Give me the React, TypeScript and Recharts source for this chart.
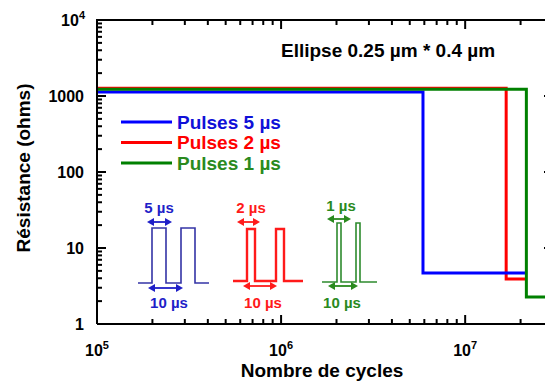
import { LineChart, Line, XAxis, YAxis } from 'recharts';

// Nombre de cycles / résistance for each pulse width (step shaped curves)
const cycles5us = [1e5, 5.9e6, 5.9e6, 2.15e7];
const res5us = [1130, 1130, 4.7, 4.7];
const cycles2us = [1e5, 1.67e7, 1.67e7, 2.15e7];
const res2us = [1260, 1260, 3.9, 3.9];
const cycles1us = [1e5, 2.15e7, 2.15e7, 3e7];
const res1us = [1230, 1230, 2.27, 2.27];

const xTicks = [
  1e5, 2e5, 3e5, 4e5, 5e5, 6e5, 7e5, 8e5, 9e5,
  1e6, 2e6, 3e6, 4e6, 5e6, 6e6, 7e6, 8e6, 9e6,
  1e7, 2e7, 3e7,
];
const yTicks = [
  1, 2, 3, 4, 5, 6, 7, 8, 9,
  10, 20, 30, 40, 50, 60, 70, 80, 90,
  100, 200, 300, 400, 500, 600, 700, 800, 900,
  1000, 2000, 3000, 4000, 5000, 6000, 7000, 8000, 9000,
  10000,
];
const yLabels: { [k: number]: string } = { 1: '1', 10: '10', 100: '100', 1000: '1000' };

const series = [
  { name: 'Pulses 5 µs', color: '#0000ff', text: '#1010d8', x: cycles5us, y: res5us },
  { name: 'Pulses 2 µs', color: '#ff0000', text: '#ff0000', x: cycles2us, y: res2us },
  { name: 'Pulses 1 µs', color: '#008000', text: '#2a8a1e', x: cycles1us, y: res1us },
];
const drawOrder = [1, 0, 2];

const X_DOMAIN = [1e5, 3e7];
const PLOT = { left: 97, right: 553, top: 20, bottom: 324 };

const toPoints = (xs: number[], ys: number[]) => xs.map((x, i) => ({ x, y: ys[i] }));

const isDecade = (v: number) => Math.abs(Math.log10(v) - Math.round(Math.log10(v))) < 1e-9;

// same log mapping as the chart's x axis, used only for the top frame ticks
const xPos = (v: number) =>
  PLOT.left +
  ((Math.log10(v) - Math.log10(X_DOMAIN[0])) / (Math.log10(X_DOMAIN[1]) - Math.log10(X_DOMAIN[0]))) *
    (PLOT.right - PLOT.left);

const FONT = '"Liberation Sans", Arial, sans-serif';

const BottomTick = (props: any) => {
  const { x, y, payload } = props;
  const major = isDecade(payload.value);
  return (
    <g>
      <line x1={x} x2={x} y1={y} y2={y - (major ? 9 : 5)} stroke="#000" strokeWidth={2} />
      {major && (
        <text x={x} y={y + 32} textAnchor="middle" fontSize={16} fontWeight="bold" fill="#000" fontFamily={FONT}>
          10<tspan dy={-7} fontSize={11}>{Math.round(Math.log10(payload.value))}</tspan>
        </text>
      )}
    </g>
  );
};

const LeftTick = (props: any) => {
  const { x, y, payload } = props;
  const v = payload.value;
  const major = isDecade(v);
  return (
    <g>
      <line x1={x} x2={x + (major ? 9 : 5)} y1={y} y2={y} stroke="#000" strokeWidth={2} />
      {major && v < 10000 && (
        <text x={x - 13} y={y} dy="0.35em" textAnchor="end" fontSize={16} fontWeight="bold" fill="#000" fontFamily={FONT}>
          {yLabels[v]}
        </text>
      )}
      {v === 10000 && (
        <text x={x - 12} y={y} dy="0.35em" textAnchor="end" fontSize={16} fontWeight="bold" fill="#000" fontFamily={FONT}>
          10<tspan dy={-7} fontSize={11}>4</tspan>
        </text>
      )}
    </g>
  );
};

const RightTick = (props: any) => {
  const { x, y, payload } = props;
  const major = isDecade(payload.value);
  return <line x1={x} x2={x - (major ? 9 : 5)} y1={y} y2={y} stroke="#000" strokeWidth={2} />;
};

// pulse sketches (schematic insets)
const insets = [
  {
    color: '#3434a6', label: '#1f1fc8', sw: 1.6, width: '5 µs', period: '10 µs',
    edges: [138, 152, 166, 181, 195, 209], hi: 228, lo: 283,
    top: [147, 172, 222], topText: [159, 213], bot: [148, 183, 288], botText: [169, 308],
  },
  {
    color: '#ff1a1a', label: '#ff1a1a', sw: 2.4, width: '2 µs', period: '10 µs',
    edges: [233, 247, 255, 276, 284, 303], hi: 229, lo: 281,
    top: [237, 260, 222], topText: [251, 213], bot: [243, 277, 286], botText: [263, 308],
  },
  {
    color: '#2e8b2e', label: '#2a8a1e', sw: 1.6, width: '1 µs', period: '10 µs',
    edges: [322, 337, 341, 356, 360, 377], hi: 223, lo: 282,
    top: [327, 351, 219], topText: [341, 211], bot: [328, 358, 286], botText: [342, 308],
  },
];

const Arrow = ({ a, b, y, color }: { a: number; b: number; y: number; color: string }) => (
  <g>
    <line x1={a + 4} x2={b - 4} y1={y} y2={y} stroke={color} strokeWidth={1.8} />
    <polygon points={`${a},${y} ${a + 7},${y - 4} ${a + 7},${y + 4}`} fill={color} />
    <polygon points={`${b},${y} ${b - 7},${y - 4} ${b - 7},${y + 4}`} fill={color} />
  </g>
);

export default function App() {
  return (
    <div style={{ position: 'absolute', left: 0, top: 0, width: 545, height: 383, overflow: 'hidden', background: '#fff', fontFamily: FONT }}>
      <LineChart width={560} height={383} margin={{ top: PLOT.top, right: 0, bottom: 0, left: 0 }}>
        <XAxis
          dataKey="x"
          type="number"
          scale="log"
          domain={X_DOMAIN}
          allowDataOverflow
          ticks={xTicks}
          interval={0}
          height={59}
          tickSize={0}
          tickMargin={0}
          tick={<BottomTick />}
          axisLine={{ stroke: '#000', strokeWidth: 2 }}
        />
        <YAxis
          type="number"
          scale="log"
          domain={[1, 10000]}
          allowDataOverflow
          ticks={yTicks}
          interval={0}
          width={PLOT.left}
          tickSize={0}
          tickMargin={0}
          tick={<LeftTick />}
          axisLine={{ stroke: '#000', strokeWidth: 2 }}
        />
        <YAxis
          yAxisId="right"
          orientation="right"
          type="number"
          scale="log"
          domain={[1, 10000]}
          allowDataOverflow
          ticks={yTicks}
          interval={0}
          width={560 - PLOT.right}
          tickSize={0}
          tickMargin={0}
          tick={<RightTick />}
          axisLine={{ stroke: '#000', strokeWidth: 2 }}
        />
        {drawOrder.map((i) => (
          <Line
            key={series[i].name}
            data={toPoints(series[i].x, series[i].y)}
            dataKey="y"
            type="linear"
            stroke={series[i].color}
            strokeWidth={3}
            dot={false}
            activeDot={false}
            isAnimationActive={false}
          />
        ))}
        {/* invisible copy so the right mirror axis gets a domain */}
        <Line
          yAxisId="right"
          data={toPoints(cycles1us, res1us)}
          dataKey="y"
          stroke="none"
          dot={false}
          activeDot={false}
          legendType="none"
          isAnimationActive={false}
        />
      </LineChart>

      <svg width={545} height={383} style={{ position: 'absolute', left: 0, top: 0, pointerEvents: 'none' }} fontFamily={FONT}>
        {/* top frame with inward ticks */}
        <line x1={PLOT.left - 1} x2={545} y1={PLOT.top} y2={PLOT.top} stroke="#000" strokeWidth={2} />
        {xTicks.map((v) => (
          <line
            key={v}
            x1={xPos(v)}
            x2={xPos(v)}
            y1={PLOT.top}
            y2={PLOT.top + (isDecade(v) ? 9 : 5)}
            stroke="#000"
            strokeWidth={2}
          />
        ))}

        <text x={281} y={57} fontSize={19} fontWeight="bold" fill="#000">Ellipse 0.25 µm * 0.4 µm</text>
        <text transform="translate(30,168) rotate(-90)" textAnchor="middle" fontSize={19} fontWeight="bold" fill="#000">
          Résistance (ohms)
        </text>
        <text x={322} y={377} textAnchor="middle" fontSize={19} fontWeight="bold" fill="#000">Nombre de cycles</text>

        {series.map((s, i) => (
          <g key={s.name}>
            <line x1={121} x2={172} y1={122 + i * 20.5} y2={122 + i * 20.5} stroke={s.color} strokeWidth={3} />
            <text x={177} y={122 + i * 20.5} dy="0.35em" fontSize={19} fontWeight="bold" fill={s.text}>{s.name}</text>
          </g>
        ))}

        {insets.map((p, i) => {
          const [x0, r1, f1, r2, f2, x1] = p.edges;
          const d = `M${x0},${p.lo} H${r1} V${p.hi} H${f1} V${p.lo} H${r2} V${p.hi} H${f2} V${p.lo} H${x1}`;
          return (
            <g key={i}>
              <path d={d} fill="none" stroke={p.color} strokeWidth={p.sw} />
              <Arrow a={p.top[0]} b={p.top[1]} y={p.top[2]} color={p.label} />
              <Arrow a={p.bot[0]} b={p.bot[1]} y={p.bot[2]} color={p.label} />
              <text x={p.topText[0]} y={p.topText[1]} textAnchor="middle" fontSize={15} fontWeight="bold" fill={p.label}>{p.width}</text>
              <text x={p.botText[0]} y={p.botText[1]} textAnchor="middle" fontSize={15} fontWeight="bold" fill={p.label}>{p.period}</text>
            </g>
          );
        })}
      </svg>
    </div>
  );
}
